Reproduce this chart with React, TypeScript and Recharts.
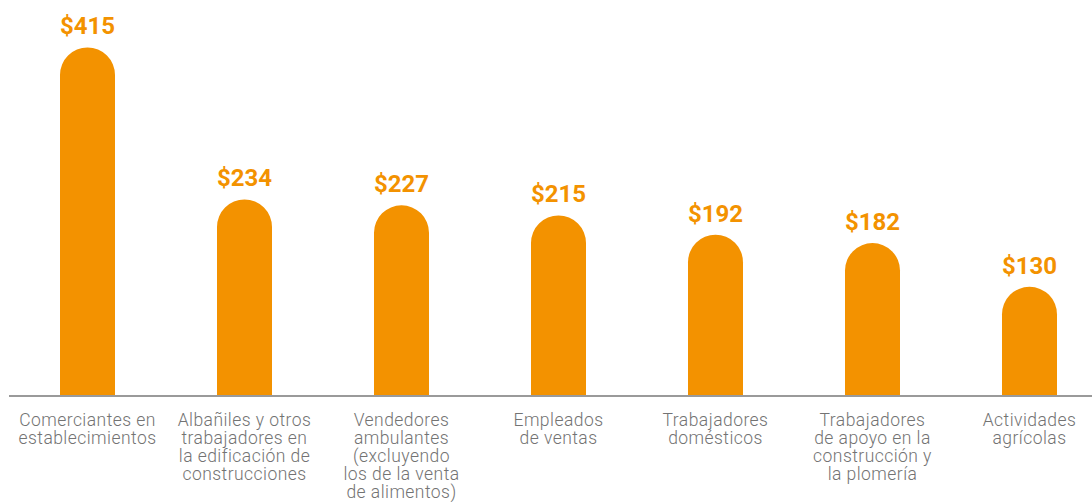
import React from 'react';
import { BarChart, Bar, XAxis, YAxis, LabelList } from 'recharts';

const categories = [
  'Comerciantes en\nestablecimientos',
  'Albañiles y otros\ntrabajadores en\nla edificación de\nconstrucciones',
  'Vendedores\nambulantes\n(excluyendo\nlos de la venta\nde alimentos)',
  'Empleados\nde ventas',
  'Trabajadores\ndomésticos',
  'Trabajadores\nde apoyo en la\nconstrucción y\nla plomería',
  'Actividades\nagrícolas',
];

const values = [415, 234, 227, 215, 192, 182, 130];

const data = categories.map((name, i) => ({ name, value: values[i] }));

const ORANGE = '#F39200';

function CategoryTick(props: any) {
  const { x, payload } = props;
  const lines = String(payload.value).split('\n');
  // baseline of the first line sits ~31px under the axis
  const y0 = 426;
  return (
    <text
      x={x}
      y={y0}
      textAnchor="middle"
      fill="#737373"
      fontSize={17.5}
      fontWeight={300}
      letterSpacing={0.45}
      fontFamily="Roboto, sans-serif"
    >
      {lines.map((line, i) => (
        <tspan key={i} x={x} y={y0 + i * 18}>
          {line}
        </tspan>
      ))}
    </text>
  );
}

export default function App() {
  return (
    <div
      style={{
        position: 'absolute',
        left: 0,
        top: 0,
        width: 1092,
        height: 502,
        overflow: 'hidden',
        background: '#fff',
      }}
    >
      <BarChart
        width={1110}
        height={502}
        data={data}
        margin={{ top: 18, right: 2, left: 9, bottom: 0 }}
        barCategoryGap={0}
      >
        <XAxis
          dataKey="name"
          height={106}
          axisLine={{ stroke: '#9a9a9a', strokeWidth: 2 }}
          tickLine={false}
          interval={0}
          tick={<CategoryTick />}
        />
        <YAxis hide domain={[0, 450]} />
        <Bar
          dataKey="value"
          fill={ORANGE}
          barSize={55}
          radius={[27.5, 27.5, 0, 0]}
          isAnimationActive={false}
        >
          <LabelList
            dataKey="value"
            position="top"
            offset={13}
            fill={ORANGE}
            fontSize={24}
            fontWeight={700}
            fontFamily="Roboto, sans-serif"
            formatter={(v: any) => `$${v}`}
          />
        </Bar>
      </BarChart>
    </div>
  );
}
